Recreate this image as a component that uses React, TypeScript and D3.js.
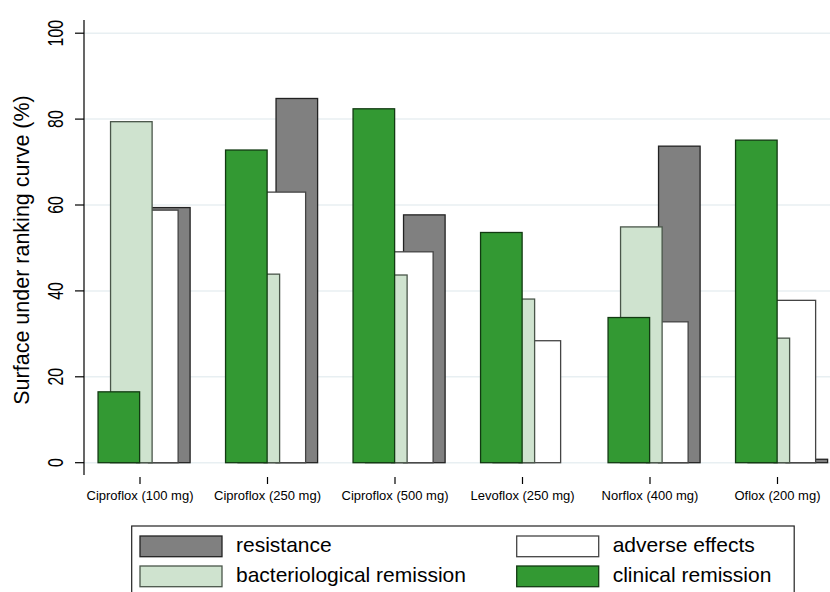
import { useRef, useEffect } from "react";
import * as d3 from "d3";

const CATEGORIES = [
  "Ciproflox (100 mg)",
  "Ciproflox (250 mg)",
  "Ciproflox (500 mg)",
  "Levoflox (250 mg)",
  "Norflox (400 mg)",
  "Oflox (200 mg)",
];
const RESISTANCE = [59.4, 84.8, 57.7, 0, 73.7, 0.8];
const ADVERSE = [58.8, 63.0, 49.1, 28.4, 32.8, 37.8];
const BACTERIO = [79.4, 43.9, 43.7, 38.1, 54.9, 29.0];
const CLINICAL = [16.5, 72.8, 82.4, 53.6, 33.8, 75.1];
const Y_TICKS = [0, 20, 40, 60, 80, 100];
const Y_TITLE = "Surface under ranking curve (%)";

const WIDTH = 830;
const HEIGHT = 592;
const FONT = "'Liberation Sans', Arial, Helvetica, sans-serif";

// drawn back to front; offset = left edge relative to the tick, in category steps
const SERIES = [
  { key: "resistance", label: "resistance", values: RESISTANCE, fill: "#808080", stroke: "#222222", offset: 0.067 },
  { key: "adverse", label: "adverse effects", values: ADVERSE, fill: "#ffffff", stroke: "#444444", offset: -0.027 },
  { key: "bacterio", label: "bacteriological remission", values: BACTERIO, fill: "#cfe3cf", stroke: "#4a564a", offset: -0.231 },
  { key: "clinical", label: "clinical remission", values: CLINICAL, fill: "#339933", stroke: "#123a12", offset: -0.329 },
];
const BAR_W = 0.326;
const LEGEND_ORDER = ["resistance", "adverse", "bacterio", "clinical"];

export default function App() {
  const svgRef = useRef<SVGSVGElement>(null);

  useEffect(() => {
    const svg = d3.select(svgRef.current);
    svg.selectAll("*").remove();

    const x = d3.scalePoint<string>().domain(CATEGORIES).range([140, 777.5]);
    const step = x.step();
    const y = d3.scaleLinear().domain([0, 100]).range([462.7, 33.2]);
    const axisX = 84;

    svg.append("rect").attr("width", WIDTH).attr("height", HEIGHT).attr("fill", "#fff");

    // grid
    svg.append("g")
      .selectAll("line")
      .data(Y_TICKS)
      .join("line")
      .attr("x1", axisX)
      .attr("x2", WIDTH)
      .attr("y1", (d) => y(d))
      .attr("y2", (d) => y(d))
      .attr("stroke", "#e8eff2")
      .attr("stroke-width", 1.5);

    // bars
    for (const s of SERIES) {
      svg.append("g")
        .selectAll("rect")
        .data(s.values.map((v, i) => ({ v, cat: CATEGORIES[i] })).filter((d) => d.v > 0))
        .join("rect")
        .attr("x", (d) => (x(d.cat) ?? 0) + s.offset * step)
        .attr("width", BAR_W * step)
        .attr("y", (d) => y(d.v))
        .attr("height", (d) => y(0) - y(d.v))
        .attr("fill", s.fill)
        .attr("stroke", s.stroke)
        .attr("stroke-width", 1.3);
    }

    // y axis
    const ya = svg.append("g");
    ya.append("line")
      .attr("x1", axisX).attr("x2", axisX)
      .attr("y1", 20).attr("y2", 475)
      .attr("stroke", "#000").attr("stroke-width", 1.2);
    ya.selectAll("line.tick")
      .data(Y_TICKS)
      .join("line")
      .attr("class", "tick")
      .attr("x1", 75).attr("x2", axisX)
      .attr("y1", (d) => y(d)).attr("y2", (d) => y(d))
      .attr("stroke", "#000").attr("stroke-width", 1.2);
    ya.selectAll("text")
      .data(Y_TICKS)
      .join("text")
      .attr("transform", (d) => `translate(63,${y(d)}) rotate(-90) scale(0.72,1)`)
      .attr("text-anchor", "middle")
      .attr("font-family", FONT)
      .attr("font-size", 22)
      .attr("fill", "#000")
      .text((d) => String(d));

    svg.append("text")
      .attr("transform", `translate(28.5,250) rotate(-90)`)
      .attr("text-anchor", "middle")
      .attr("font-family", FONT)
      .attr("font-size", 21.5)
      .attr("fill", "#000")
      .text(Y_TITLE);

    // x axis ticks + labels
    const xa = svg.append("g");
    xa.selectAll("line")
      .data(CATEGORIES)
      .join("line")
      .attr("x1", (d) => x(d) ?? 0).attr("x2", (d) => x(d) ?? 0)
      .attr("y1", 477).attr("y2", 484)
      .attr("stroke", "#000").attr("stroke-width", 1.2);
    xa.selectAll("text")
      .data(CATEGORIES)
      .join("text")
      .attr("x", (d) => x(d) ?? 0)
      .attr("y", 500)
      .attr("text-anchor", "middle")
      .attr("font-family", FONT)
      .attr("font-size", 13)
      .attr("fill", "#000")
      .text((d) => d);

    // legend
    const lg = svg.append("g");
    lg.append("rect")
      .attr("x", 131.7).attr("y", 526)
      .attr("width", 662.5).attr("height", 75)
      .attr("fill", "#fff").attr("stroke", "#222").attr("stroke-width", 1.2);
    LEGEND_ORDER.forEach((k, i) => {
      const s = SERIES.find((d) => d.key === k)!;
      const col = i % 2;
      const row = Math.floor(i / 2);
      const sx = col === 0 ? 140 : 516.7;
      const sy = 536 + row * 30;
      lg.append("rect")
        .attr("x", sx).attr("y", sy)
        .attr("width", 82).attr("height", 20.7)
        .attr("fill", s.fill).attr("stroke", s.stroke).attr("stroke-width", 1.3);
      lg.append("text")
        .attr("x", sx + 96).attr("y", sy + 16.3)
        .attr("font-family", FONT)
        .attr("font-size", 21)
        .attr("fill", "#000")
        .text(s.label);
    });
  }, []);

  return (
    <svg
      ref={svgRef}
      width={WIDTH}
      height={HEIGHT}
      viewBox={`0 0 ${WIDTH} ${HEIGHT}`}
      style={{ position: "absolute", left: 0, top: 0, display: "block" }}
    />
  );
}
